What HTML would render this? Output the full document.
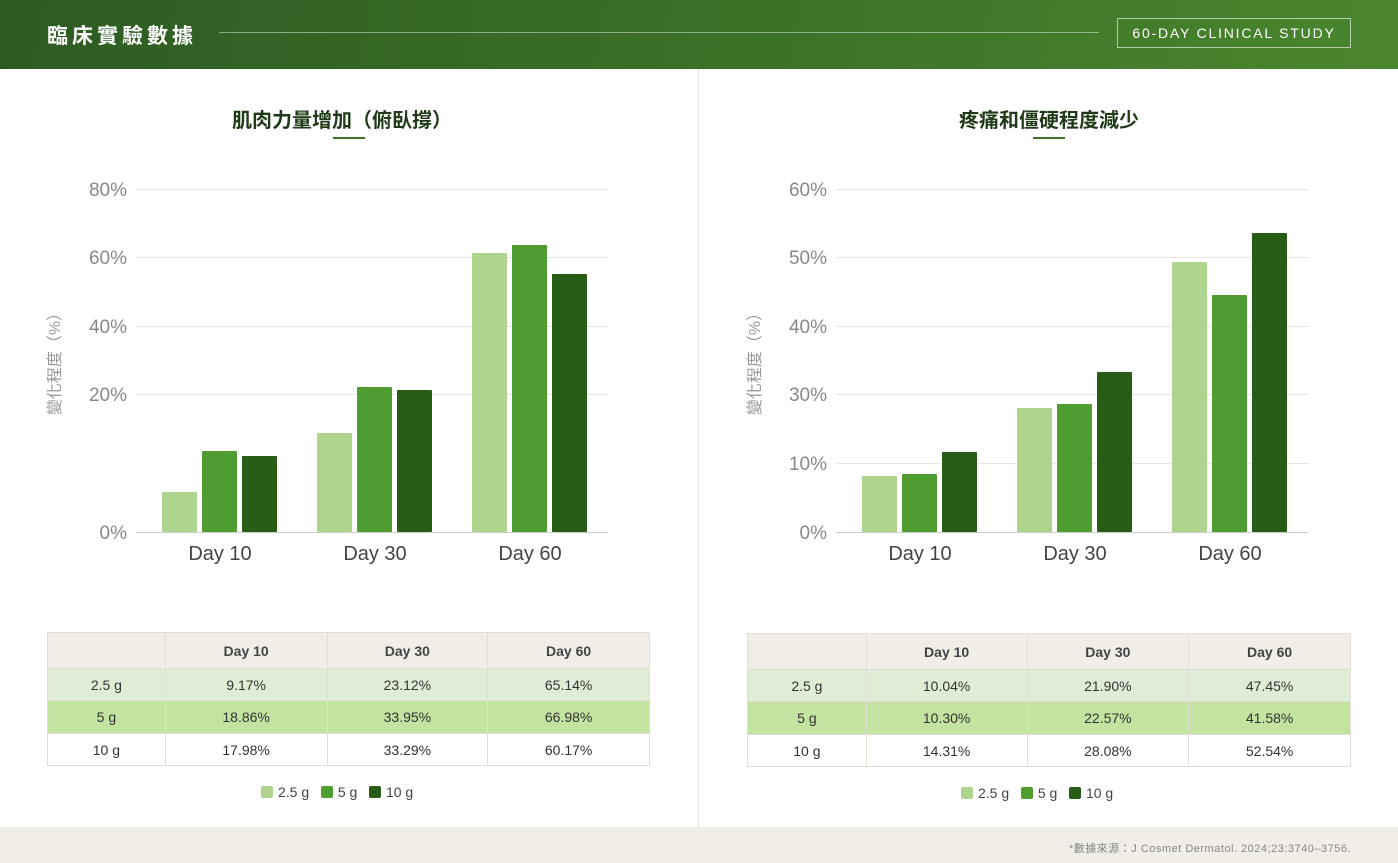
<!DOCTYPE html>
<html><head><meta charset="utf-8"><style>
*{margin:0;padding:0;box-sizing:border-box}
body{width:1398px;height:863px;position:relative;background:#fff;font-family:"Liberation Sans","Noto Sans CJK TC",sans-serif;overflow:hidden}
.hdr{position:absolute;left:0;top:0;width:1398px;height:69px;background:linear-gradient(100deg,#2d5a22 0%,#3d7428 60%,#4a862e 100%)}
.hdr .t{position:absolute;left:47px;top:20px;color:#fff;font-size:21px;font-weight:bold;letter-spacing:4px}
.hdr .ln{position:absolute;left:219px;top:32px;width:880px;height:1px;background:rgba(255,255,255,.45)}
.hdr .bx{position:absolute;left:1117px;top:18px;width:234px;height:30px;border:1px solid rgba(255,255,255,.6);color:#fff;font-size:14px;letter-spacing:1.8px;text-align:center;line-height:28px}
.div{position:absolute;left:698px;top:69px;width:1px;height:758px;background:#e8e5de}
.foot{position:absolute;left:0;top:827px;width:1398px;height:36px;background:#f1eee7}
.foot span{position:absolute;right:47px;top:13px;font-size:11px;color:#888;letter-spacing:.5px}
.ct{position:absolute;font-size:20px;font-weight:bold;color:#1f3a17;text-align:center;width:400px}
.ul{position:absolute;width:32px;height:2px;background:#3d7428}
table{position:absolute;border-collapse:collapse;font-size:14px;color:#333}
td{border:1px solid #e2ded6;text-align:center}
tr.h td{background:#f1eee7;font-weight:bold;color:#444;height:36px}
tr.a td{background:#e0edd6;height:32px}
tr.b td{background:#c3e3a0;height:33px}
tr.c td{background:#fff;height:32px}
.lg{position:absolute;font-size:14px;color:#444}
.lg i{display:inline-block;width:12px;height:12px;border-radius:2px;vertical-align:-1px;margin-right:5px}
</style></head><body>
<div class="hdr"><div class="t">臨床實驗數據</div><div class="ln"></div><div class="bx">60-DAY CLINICAL STUDY</div></div>
<div class="div"></div>
<div class="ct" style="left:142px;top:104px">肌肉力量增加（俯臥撐）</div>
<div class="ul" style="left:333px;top:137px"></div>
<div class="ct" style="left:849px;top:104px">疼痛和僵硬程度減少</div>
<div class="ul" style="left:1033px;top:137px"></div>
<svg width="1398" height="600" style="position:absolute;left:0;top:0" font-family="Liberation Sans, Noto Sans CJK TC, sans-serif">
<g stroke="#e6e6e6" stroke-width="1">
<line x1="136" x2="608" y1="189.5" y2="189.5"/><line x1="136" x2="608" y1="257.5" y2="257.5"/><line x1="136" x2="608" y1="326.5" y2="326.5"/><line x1="136" x2="608" y1="394.5" y2="394.5"/>
<line x1="836" x2="1309" y1="189.5" y2="189.5"/><line x1="836" x2="1309" y1="257.5" y2="257.5"/><line x1="836" x2="1309" y1="326.5" y2="326.5"/><line x1="836" x2="1309" y1="394.5" y2="394.5"/><line x1="836" x2="1309" y1="463.5" y2="463.5"/>
</g>
<line x1="136" x2="608" y1="532.5" y2="532.5" stroke="#ccc"/>
<line x1="836" x2="1309" y1="532.5" y2="532.5" stroke="#ccc"/>
<g font-size="19" fill="#888" text-anchor="end">
<text x="127" y="196">80%</text><text x="127" y="264">60%</text><text x="127" y="333">40%</text><text x="127" y="401">20%</text><text x="127" y="539">0%</text>
<text x="827" y="196">60%</text><text x="827" y="264">50%</text><text x="827" y="333">40%</text><text x="827" y="401">30%</text><text x="827" y="470">10%</text><text x="827" y="539">0%</text>
</g>
<g font-size="20" fill="#444" text-anchor="middle">
<text x="220" y="560">Day 10</text><text x="375" y="560">Day 30</text><text x="530" y="560">Day 60</text>
<text x="920" y="560">Day 10</text><text x="1075" y="560">Day 30</text><text x="1230" y="560">Day 60</text>
</g>
<text transform="translate(60,360) rotate(-90)" font-size="16" fill="#999" text-anchor="middle">變化程度（%）</text>
<text transform="translate(760,360) rotate(-90)" font-size="16" fill="#999" text-anchor="middle">變化程度（%）</text>
<g>
<rect x="162" y="492" width="35" height="40" fill="#afd48e" rx="1"/>
<rect x="202" y="451" width="35" height="81" fill="#4f9c31" rx="1"/>
<rect x="242" y="456" width="35" height="76" fill="#285d17" rx="1"/>
<rect x="317" y="433" width="35" height="99" fill="#afd48e" rx="1"/>
<rect x="357" y="387" width="35" height="145" fill="#4f9c31" rx="1"/>
<rect x="397" y="390" width="35" height="142" fill="#285d17" rx="1"/>
<rect x="472" y="253" width="35" height="279" fill="#afd48e" rx="1"/>
<rect x="512" y="245" width="35" height="287" fill="#4f9c31" rx="1"/>
<rect x="552" y="274" width="35" height="258" fill="#285d17" rx="1"/>
<rect x="862" y="476" width="35" height="56" fill="#afd48e" rx="1"/>
<rect x="902" y="474" width="35" height="58" fill="#4f9c31" rx="1"/>
<rect x="942" y="452" width="35" height="80" fill="#285d17" rx="1"/>
<rect x="1017" y="408" width="35" height="124" fill="#afd48e" rx="1"/>
<rect x="1057" y="404" width="35" height="128" fill="#4f9c31" rx="1"/>
<rect x="1097" y="372" width="35" height="160" fill="#285d17" rx="1"/>
<rect x="1172" y="262" width="35" height="270" fill="#afd48e" rx="1"/>
<rect x="1212" y="295" width="35" height="237" fill="#4f9c31" rx="1"/>
<rect x="1252" y="233" width="35" height="299" fill="#285d17" rx="1"/>
</g>
</svg>
<table style="left:47px;top:632px;width:603px">
<colgroup><col style="width:118px"><col style="width:162px"><col style="width:161px"><col style="width:162px"></colgroup>
<tr class="h"><td></td><td>Day 10</td><td>Day 30</td><td>Day 60</td></tr>
<tr class="a"><td>2.5 g</td><td>9.17%</td><td>23.12%</td><td>65.14%</td></tr>
<tr class="b"><td>5 g</td><td>18.86%</td><td>33.95%</td><td>66.98%</td></tr>
<tr class="c"><td>10 g</td><td>17.98%</td><td>33.29%</td><td>60.17%</td></tr>
</table>
<table style="left:747px;top:633px;width:604px">
<colgroup><col style="width:119px"><col style="width:161px"><col style="width:162px"><col style="width:162px"></colgroup>
<tr class="h"><td></td><td>Day 10</td><td>Day 30</td><td>Day 60</td></tr>
<tr class="a"><td>2.5 g</td><td>10.04%</td><td>21.90%</td><td>47.45%</td></tr>
<tr class="b"><td>5 g</td><td>10.30%</td><td>22.57%</td><td>41.58%</td></tr>
<tr class="c"><td>10 g</td><td>14.31%</td><td>28.08%</td><td>52.54%</td></tr>
</table>
<div class="lg" style="left:261px;top:784px"><i style="background:#afd48e"></i>2.5 g&nbsp;&nbsp;&nbsp;<i style="background:#4f9c31"></i>5 g&nbsp;&nbsp;&nbsp;<i style="background:#285d17"></i>10 g</div>
<div class="lg" style="left:961px;top:785px"><i style="background:#afd48e"></i>2.5 g&nbsp;&nbsp;&nbsp;<i style="background:#4f9c31"></i>5 g&nbsp;&nbsp;&nbsp;<i style="background:#285d17"></i>10 g</div>
<div class="foot"><span>*數據來源：J Cosmet Dermatol. 2024;23:3740–3756.</span></div>
</body></html>
